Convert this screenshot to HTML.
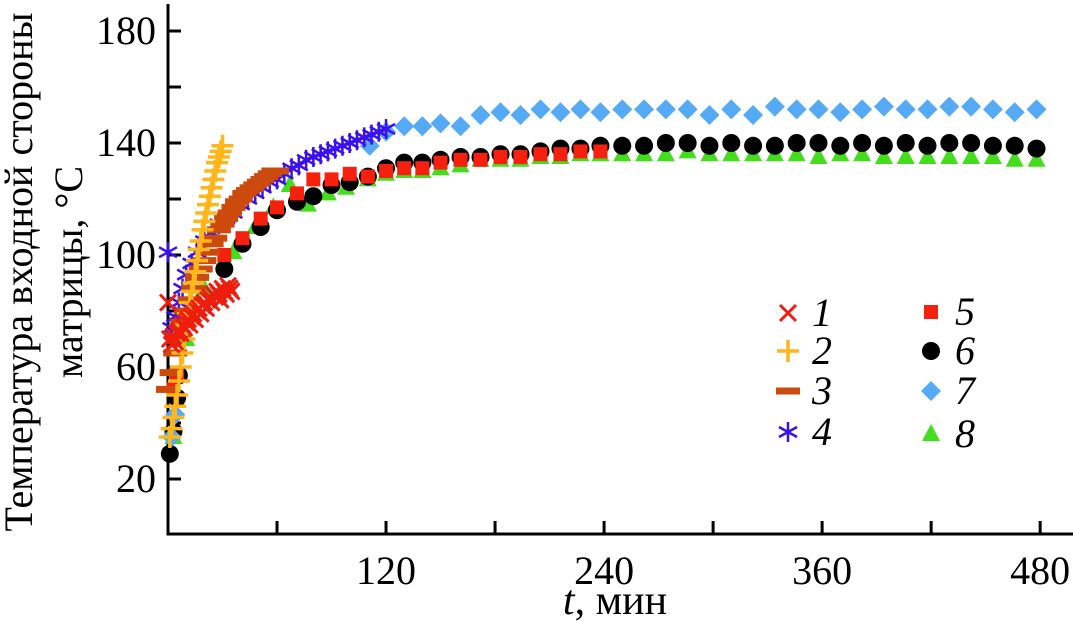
<!DOCTYPE html>
<html><head><meta charset="utf-8">
<style>
html,body{margin:0;padding:0;background:#fff;}
svg{display:block;font-family:"Liberation Serif",serif;}
</style></head>
<body>
<svg id="chart" width="1073" height="621" viewBox="0 0 1073 621" xmlns="http://www.w3.org/2000/svg">
<g id="axes"></g>
<g id="marks"></g>
<g id="legend"></g>
<text transform="translate(32,272) rotate(-90)" text-anchor="middle" font-size="40">Температура входной стороны</text>
<text transform="translate(82,272) rotate(-90)" text-anchor="middle" font-size="40">матрицы, °C</text>
<text x="615" y="614" text-anchor="middle" font-size="42"><tspan font-style="italic">t</tspan>, мин</text>
</svg>
<script>
const xTicks=[60,120,180,240,300,360,420,480];
const xTickLabels=[120,240,360,480];
const yTicks=[20,40,60,80,100,120,140,160,180];
const yTickLabels=[20,60,100,140,180];

const t1=[0,1,2,3,4,5,6,7,8,9,10,11,12,13,14,15,16,17,18,19,20,21,22,23,24,25,26,27,28,29,30,31,32,33,34,35];
const v1=[83,70,68,71,69,72,73,72,75,74,76,77,75,78,79,77,80,81,79,82,83,81,84,85,83,86,85,87,86,84,88,87,86,89,88,87];
const t2=[1,2,3,4,5,6,7,8,9,10,11,12,13,14,15,16,17,18,19,20,21,22,23,24,25,26,27,28,29,30];
const v2=[35,38,42,46,50,55,60,65,70,75,79,83,87,90,94,98,102,105,109,112,115,118,121,124,127,130,133,135,137,139];
const t3=[0,2,4,6,8,10,12,14,16,18,20,22,24,26,28,30,32,34,36,38,40,42,44,46,48,50,52,54,56,58,60];
const v3=[52,58,65,71,76,80,84,88,92,95,98,101,104,106,109,111,113,115,117,119,120,122,123,124,125,126,127,128,129,130,130];
const t4=[0,2,4,6,8,10,13,16,20,24,28,32,36,40,44,48,52,56,60,64,68,72,76,80,84,88,92,96,100,104,108,112,116,120];
const v4=[101,74,78,83,88,93,97,101,105,108,111,113,115,118,120,122,124,126,127,129,131,132,134,135,136,137,138,139,140,141,142,143,144,145];
const t5=[3,5,31,41,51,60,71,80,90,100,110,120,130,140,150,161,172,183,194,205,216,227,238];
const v5=[52,57,100,106,113,117,122,127,127,129,128,130,131,131,133,134,134,135,135,136,136,137,137];
const t6=[1,3,5,6,31,41,51,60,71,80,90,100,110,120,130,140,150,161,172,183,194,205,216,227,238,250,262,274,286,298,310,322,334,346,358,370,382,394,406,418,430,442,454,466,478];
const v6=[29,37,49,57,95,104,110,116,119,121,125,126,128,131,133,133,134,135,135,136,136,137,138,138,139,139,139,140,140,139,140,139,139,140,140,139,140,139,140,139,140,140,139,139,138];
const t7=[2,4,111,120,130,140,150,161,172,183,194,205,216,227,238,250,262,274,286,298,310,322,334,346,358,370,382,394,406,418,430,442,454,466,478];
const v7=[35,43,139,144,146,146,147,146,150,151,150,152,151,152,151,152,152,152,152,150,152,150,153,152,152,151,152,153,152,152,153,153,152,151,152];
const t8=[3,5,10,20,36,48,58,67,77,88,98,110,120,130,140,150,161,172,183,194,205,216,227,238,250,262,274,286,298,310,322,334,346,358,370,382,394,406,418,430,442,454,466,478];
const v8=[35,48,70,88,101,110,117,125,118,122,124,127,129,130,130,131,132,134,134,134,135,135,136,136,136,136,136,137,136,136,136,136,136,135,136,136,135,135,135,135,135,135,134,134];

const X=t=>168+t*1.817;
const Y=v=>479-(v-20)*2.8;
const NS="http://www.w3.org/2000/svg";
function mk(tag,attrs,parent){const e=document.createElementNS(NS,tag);for(const k in attrs)e.setAttribute(k,attrs[k]);parent.appendChild(e);return e;}
const axes=document.getElementById('axes'),marks=document.getElementById('marks'),legend=document.getElementById('legend');

const yl=mk('line',{x1:168,y1:4,x2:168,y2:535,stroke:'#000','stroke-width':3},axes);


const xl=mk('line',{x1:166.5,y1:534,x2:1073,y2:534,stroke:'#000','stroke-width':3},axes);


xTicks.forEach(t=>{const l=mk('line',{x1:X(t),y1:534,x2:X(t),y2:521,stroke:'#000','stroke-width':3},axes);

});
xTickLabels.forEach(t=>{const tx=mk('text',{x:X(t),y:584,'text-anchor':'middle','font-size':40},axes);tx.textContent=t;

});
yTicks.forEach(v=>{const l=mk('line',{x1:168,y1:Y(v),x2:181,y2:Y(v),stroke:'#000','stroke-width':3},axes);

});
yTickLabels.forEach(v=>{const tx=mk('text',{x:156,y:Y(v)+13,'text-anchor':'end','font-size':40},axes);tx.textContent=v;

});

function marker(type,x,y,g,s){
  s=s||1;
  if(type==='x'){mk('path',{d:`M${x-8*s} ${y-8*s}L${x+8*s} ${y+8*s}M${x-8*s} ${y+8*s}L${x+8*s} ${y-8*s}`,stroke:'#ee1d0e','stroke-width':3,fill:'none'},g);}
  else if(type==='plus'){mk('path',{d:`M${x-11*s} ${y}L${x+11*s} ${y}M${x} ${y-11*s}L${x} ${y+11*s}`,stroke:'#ffb61a','stroke-width':3.5,fill:'none'},g);}
  else if(type==='dash'){mk('rect',{x:x-12*s,y:y-3.5,width:24*s,height:7,fill:'#cc4b0c'},g);}
  else if(type==='star'){mk('path',{d:`M${x} ${y-10*s}L${x} ${y+10*s}M${x-9*s} ${y-5*s}L${x+9*s} ${y+5*s}M${x-9*s} ${y+5*s}L${x+9*s} ${y-5*s}`,stroke:'#3a10ee','stroke-width':2.5,fill:'none'},g);}
  else if(type==='sq'){mk('rect',{x:x-7,y:y-7,width:14,height:14,fill:'#f5200e'},g);}
  else if(type==='circ'){mk('circle',{cx:x,cy:y,r:9,fill:'#000'},g);}
  else if(type==='dia'){mk('path',{d:`M${x} ${y-10}L${x+10} ${y}L${x} ${y+10}L${x-10} ${y}Z`,fill:'#55aaf5'},g);}
  else if(type==='tri'){mk('path',{d:`M${x} ${y-10}L${x+9} ${y+7}L${x-9} ${y+7}Z`,fill:'#44dd1e'},g);}
}
const series=[
 ['series-8','tri',t8,v8],['series-6','circ',t6,v6],['series-5','sq',t5,v5],['series-7','dia',t7,v7],
 ['series-4','star',t4,v4],['series-3','dash',t3,v3],['series-2','plus',t2,v2],['series-1','x',t1,v1]];
series.forEach(([name,type,ts,vs])=>{
  const g=mk('g',{},marks);
  
  
  ts.forEach((t,i)=>marker(type,X(t),Y(vs[i]),g));
});
const leg=[['1','x',788,313],['2','plus',788,351],['3','dash',788,391],['4','star',788,432],
 ['5','sq',931,312],['6','circ',931,351],['7','dia',931,391],['8','tri',931,434]];
leg.forEach(([lab,type,x,y])=>{
  const g=mk('g',{},legend);
  
  
  marker(type,x,y,g);
  const tx=mk('text',{x:x+24,y:y+13,'font-size':40,'font-style':'italic'},g);tx.textContent=lab;
});
</script>
</body></html>
